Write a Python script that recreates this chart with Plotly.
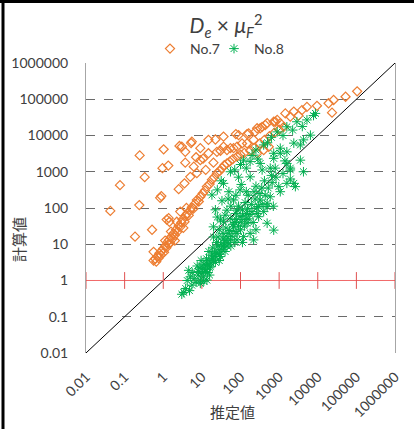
import numpy as np
import plotly.graph_objects as go

# ---------------- data (log10 values) ----------------
no7_log_x = [-1.37, -1.12, -0.61, -0.62, -0.48, -0.73, -0.29, 0.01, -0.02, 0.13,
             -0.08, -0.05, 0.09, 0.14, 0.16, 0.40, 0.55, 0.42, 0.72, 0.57,
             0.85, 1.03, 1.17, 0.74, 0.96, 1.17, 1.39, 0.96, 0.79, 0.87,
             0.70, 1.56, 1.88, 2.17, 1.35, 1.56, 1.74, 1.91, 2.04, 2.43,
             2.56, 2.69, 2.90, 3.03, 2.64, 2.51, 2.38, 2.21, 1.95, 2.34,
             2.17, 1.82, 1.65, 1.48, 2.43, 2.60, 2.73, 3.16, 3.38, 3.59,
             3.72, 3.98, 4.28, 4.41, 4.72, 5.02, 4.37, 2.95, 2.86, 0.44,
             -0.25, 0.48, 0.57, 1.30, 1.10, 3.29, 3.50,
             -0.25, -0.21, -0.18, -0.15, -0.12, -0.10, -0.06, -0.04, 0.00, 0.02,
             0.05, 0.08, 0.10, 0.13, 0.15, 0.18, 0.20, 0.24, 0.27, 0.30,
             0.33, 0.37, 0.40, 0.44, 0.47, 0.50, 0.55, 0.58, 0.62, 0.66,
             0.70, 0.74, 0.78, 0.82, 0.87, 0.92, 0.96, 1.02, 1.08, 1.13,
             1.20, 1.26, 1.32, 1.39, 1.46, 1.52, 1.58, 1.65, 1.72, 1.80,
             1.91, 2.00, 2.10, 2.25, 2.35, 2.50, 2.62, 2.75, 2.88, 3.00,
             3.12, 0.05, 0.20, 0.35, 0.60, 0.30, 0.52]
no7_log_y = [1.92, 2.63, 3.45, 2.08, 2.85, 1.21, 1.40, 3.62, 3.10, 3.17,
             2.28, 2.33, 1.68, 1.72, 1.62, 2.52, 2.68, 3.71, 3.79, 3.25,
             3.40, 3.36, 3.88, 3.83, 3.65, 3.51, 3.55, 3.32, 3.14, 2.96,
             2.86, 3.97, 4.04, 4.04, 3.89, 3.69, 3.65, 3.69, 3.78, 4.20,
             4.24, 4.34, 4.38, 4.34, 4.29, 4.20, 4.10, 4.06, 4.01, 3.88,
             3.78, 3.65, 3.60, 3.58, 3.51, 3.60, 3.69, 4.61, 4.66, 4.70,
             4.79, 4.82, 4.89, 4.98, 5.07, 5.22, 4.63, 4.43, 4.38, 1.90,
             0.79, 3.69, 3.55, 3.25, 3.05, 4.52, 4.55,
             0.55, 0.60, 0.52, 0.66, 0.62, 0.75, 0.70, 0.82, 0.88, 0.78,
             0.95, 0.90, 1.05, 1.00, 1.12, 1.03, 1.20, 1.15, 1.30, 1.25,
             1.40, 1.35, 1.50, 1.48, 1.60, 1.68, 1.62, 1.78, 1.85, 1.80,
             1.94, 2.02, 1.98, 2.12, 2.22, 2.18, 2.31, 2.40, 2.48, 2.59,
             2.66, 2.78, 2.85, 2.96, 3.02, 3.10, 3.18, 3.23, 3.28, 3.35,
             3.42, 3.47, 3.52, 3.58, 3.66, 3.78, 3.88, 3.98, 4.08, 4.16,
             4.24, 1.10, 1.35, 1.62, 2.00, 1.10, 1.45]

no8_log_x = [0.48, 0.53, 0.66, 0.91, 0.74, 0.96, 1.13, 1.04, 0.96, 0.80,
             0.85, 0.90, 1.00, 1.10, 1.20, 1.15, 1.22, 1.30, 1.39, 1.48,
             1.56, 1.25, 1.35, 1.45, 1.50, 1.60, 1.74, 1.65, 1.70, 1.82,
             1.91, 1.91, 2.08, 2.34, 2.25, 2.17, 1.99, 2.00, 2.10, 2.20,
             2.30, 1.85, 1.56, 1.30, 1.48, 1.65, 1.82, 1.99, 2.25, 2.51,
             2.86, 1.26, 1.56, 1.91, 2.43, 2.47, 2.47, 2.51, 2.69, 2.77,
             2.99, 3.03, 3.20, 3.38, 3.29, 3.63, 3.55, 3.03, 2.69, 2.86,
             3.42, 3.29, 2.69,
             1.05, 1.12, 1.18, 1.28, 1.38, 1.42, 1.55, 1.62, 1.75, 1.88,
             1.95, 2.05, 2.12, 2.20, 2.35, 2.40, 2.55, 2.62, 2.80, 2.90,
             1.40, 1.35, 1.52, 1.70, 1.60, 1.75, 1.85, 2.05, 1.05, 0.70,
             0.62, 0.88, 0.98, 1.08, 1.20, 1.45, 2.15, 2.40, 2.60, 2.85,
             1.74, 2.08, 2.25, 2.60, 2.95, 3.20, 3.46, 3.72, 3.94, 3.81,
             3.55, 3.20, 2.86, 2.77, 2.56, 3.29, 3.89, 3.63, 3.38, 3.03,
             3.20, 1.40, 1.50, 1.85, 2.00, 2.30, 2.40, 2.70, 2.80, 3.10,
             3.35, 3.60, 2.45, 2.15, 1.95,
             1.02, 1.08, 1.15, 1.18, 1.24, 1.28, 1.33, 1.36, 1.42, 1.46,
             1.52, 1.55, 1.58, 1.63, 1.67, 1.72, 1.78, 1.80, 1.86, 1.90,
             1.95, 2.02, 2.06, 2.12, 2.18, 2.24, 2.28, 2.33, 2.38, 2.42,
             2.50, 2.56, 2.64, 2.72, 2.82, 2.92, 3.10, 3.15, 1.30, 1.45,
             1.60, 1.75, 1.68, 1.88, 2.02, 2.15, 0.95, 0.75, 0.58, 0.68]
no8_log_y = [-0.38, -0.33, 0.28, 0.25, -0.13, 0.01, 0.01, 0.10, -0.08, 0.05,
             -0.05, 0.15, 0.20, 0.30, 0.35, 0.45, 0.38, 0.57, 0.75, 0.66,
             0.93, 0.70, 0.50, 0.85, 1.00, 1.10, 1.12, 0.95, 1.30, 1.48,
             1.30, 1.12, 1.21, 1.12, 1.30, 1.58, 1.76, 1.40, 1.50, 1.70,
             1.90, 1.60, 1.62, 1.48, 1.67, 1.94, 2.22, 2.50, 2.86, 3.23,
             3.51, 2.36, 2.68, 1.94, 1.85, 1.76, 2.04, 2.22, 2.13, 2.31,
             2.59, 2.45, 2.68, 2.68, 3.05, 3.00, 3.32, 3.51, 1.58, 1.39,
             2.59, 2.80, 2.04,
             0.45, 0.60, 0.80, 0.90, 1.05, 1.20, 1.30, 1.45, 1.70, 1.85,
             2.05, 1.95, 2.15, 2.35, 2.45, 2.60, 2.55, 2.75, 2.90, 3.10,
             1.75, 1.95, 2.20, 2.45, 0.80, 0.95, 1.05, 1.05, -0.02, 0.10,
             0.00, 0.40, 0.55, 0.25, 0.15, 0.55, 1.85, 1.40, 1.90, 2.05,
             3.00, 3.32, 3.28, 3.74, 4.10, 4.24, 4.38, 4.43, 4.61, 4.01,
             3.74, 3.55, 3.37, 3.10, 3.05, 3.10, 4.55, 3.88, 3.79, 3.65,
             3.23, 2.50, 2.75, 3.05, 3.20, 3.45, 3.60, 3.80, 3.95, 4.00,
             4.15, 4.25, 3.35, 3.10, 2.85,
             0.32, 0.42, 0.22, 0.55, 0.48, 0.62, 0.78, 0.66, 0.95, 0.72,
             0.85, 1.15, 0.98, 1.22, 1.05, 1.38, 1.22, 1.55, 1.35, 1.68,
             1.50, 1.62, 1.80, 1.68, 1.98, 1.82, 2.10, 1.60, 2.25, 2.00,
             2.40, 2.10, 2.35, 2.55, 2.70, 2.85, 2.95, 3.30, 1.20, 1.40,
             1.80, 2.05, 2.25, 2.35, 2.65, 2.45, 0.35, 0.22, -0.22, -0.28]

tick_vals = [0.01, 0.1, 1, 10, 100, 1000, 10000, 100000, 1000000]
tick_text = ["0.01", "0.1", "1", "10", "100", "1000", "10000", "100000", "1000000"]

series_names = ["No.7", "No.8"]
title_text = "<i>D</i><sub><i>e</i></sub> × <i>μ</i><sub><i>F</i></sub><sup>2</sup>"
x_title = "推定値"
y_title = "計算値"

# ---------------- figure ----------------
W, H = 414, 429
ML, MR, MT, MB = 86, 19, 63, 76
FONT = "Lato"
CJK = "Noto Sans CJK JP"
TXT = "#404040"

fig = go.Figure()

# reference line y = x
fig.add_trace(go.Scatter(x=[tick_vals[0], tick_vals[-1]], y=[tick_vals[0], tick_vals[-1]],
                         mode="lines", line=dict(color="#000000", width=1),
                         showlegend=False, hoverinfo="skip"))

# red horizontal axis at y = 1 with cross tick marks
fig.add_trace(go.Scatter(x=tick_vals, y=[1] * len(tick_vals), mode="lines+markers",
                         line=dict(color="#F26B6B", width=1),
                         marker=dict(symbol="line-ns", size=12,
                                     line=dict(color="#E05050", width=1)),
                         showlegend=False, hoverinfo="skip"))

fig.add_trace(go.Scatter(x=np.power(10.0, no7_log_x), y=np.power(10.0, no7_log_y),
                         mode="markers", name=series_names[0], legend="legend",
                         marker=dict(symbol="diamond-open", size=7, color="#ED7D31",
                                     line=dict(width=1.2, color="#ED7D31"))))
fig.add_trace(go.Scatter(x=np.power(10.0, no8_log_x), y=np.power(10.0, no8_log_y),
                         mode="markers", name=series_names[1], legend="legend2",
                         marker=dict(symbol="asterisk-open", size=8, color="#00B050",
                                     line=dict(width=1, color="#00B050"))))

legend_common = dict(orientation="h", xref="container", xanchor="left",
                     y=1 - 49 / H, yref="container", yanchor="middle",
                     font=dict(family=FONT, size=14, color=TXT),
                     itemwidth=30, bgcolor="rgba(0,0,0,0)")

fig.update_layout(
    width=W, height=H, autosize=False,
    margin=dict(l=ML, r=MR, t=MT, b=MB, pad=0, autoexpand=False),
    paper_bgcolor="white", plot_bgcolor="white",
    font=dict(family=FONT, size=14, color=TXT),
    title=dict(text=title_text, x=226 / W, xref="container", xanchor="center",
               y=1 - 26 / H, yref="container", yanchor="middle",
               font=dict(family=FONT, size=21, color=TXT)),
    legend=dict(x=150 / W, **legend_common),
    legend2=dict(x=214 / W, **legend_common),
    xaxis=dict(type="log", range=[-2, 6], tickvals=tick_vals, ticktext=tick_text,
               tickangle=-45, showgrid=False, zeroline=False, showline=False,
               ticks="", ticklabelstandoff=12, automargin=False,
               tickfont=dict(family=FONT, size=14, color=TXT)),
    yaxis=dict(type="log", range=[-2.0005, 6.0005], tickvals=tick_vals, ticktext=tick_text,
               showgrid=True, gridcolor="#6b6b6b", griddash="dash", gridwidth=1,
               zeroline=False, showline=True, mirror=True, linecolor="#A6A6A6", linewidth=1,
               ticks="", ticklabelstandoff=14, automargin=False,
               tickfont=dict(family=FONT, size=14, color=TXT)),
)

# axis titles
fig.add_annotation(text=x_title, xref="paper", yref="paper",
                   x=(232 - ML) / (W - ML - MR), y=-(411 - (H - MB)) / (H - MT - MB),
                   showarrow=False, xanchor="center", yanchor="middle",
                   font=dict(family=CJK, size=15, color=TXT))
fig.add_annotation(text=y_title, xref="paper", yref="paper", textangle=-90,
                   x=(18 - ML) / (W - ML - MR), y=((H - MB) - 240) / (H - MT - MB),
                   showarrow=False, xanchor="center", yanchor="middle",
                   font=dict(family=CJK, size=15, color=TXT))

# outer frame (top and left edges of the chart box)
pw, ph = W - ML - MR, H - MT - MB
fig.add_shape(type="line", xref="paper", yref="paper",
              x0=(0 - ML) / pw, x1=(W - ML) / pw,
              y0=(H - MB - 1.5) / ph, y1=(H - MB - 1.5) / ph,
              line=dict(color="#000000", width=3))
fig.add_shape(type="line", xref="paper", yref="paper",
              x0=(3 - ML) / pw, x1=(3 - ML) / pw, y0=(-MB) / ph, y1=(H - MB) / ph,
              line=dict(color="#000000", width=3))

fig.write_html("out.html")
